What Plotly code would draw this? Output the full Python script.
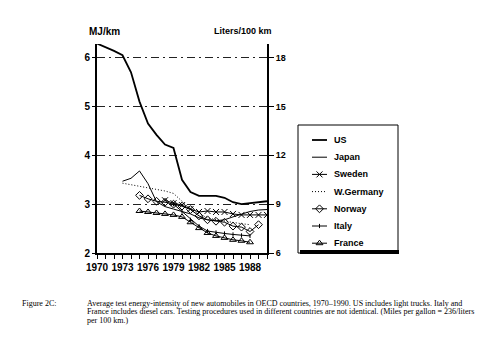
import plotly.graph_objects as go

# Average test energy intensity of new cars, MJ/km
years_us = list(range(1970, 1991))
us = [6.29, 6.22, 6.14, 6.05, 5.70, 5.10, 4.65, 4.42, 4.22, 4.15, 3.50,
      3.25, 3.17, 3.17, 3.17, 3.13, 3.04, 3.00, 3.02, 3.05, 3.06]

years_japan = list(range(1973, 1991))
japan = [3.47, 3.53, 3.68, 3.42, 3.05, 2.95, 2.90, 2.85, 2.80, 2.72,
         2.68, 2.66, 2.68, 2.74, 2.80, 2.85, 2.88, 2.89]

years_sweden = list(range(1978, 1991))
sweden = [3.08, 3.02, 2.98, 2.90, 2.84, 2.86, 2.84, 2.84, 2.80, 2.78,
          2.78, 2.78, 2.78]

years_wgermany = list(range(1973, 1989))
wgermany = [3.43, 3.40, 3.37, 3.33, 3.30, 3.27, 3.22, 3.05, 2.90, 2.80,
            2.72, 2.68, 2.65, 2.62, 2.60, 2.58]

years_norway = list(range(1975, 1990))
norway = [3.18, 3.11, 3.06, 3.04, 3.00, 2.96, 2.89, 2.76, 2.68, 2.65,
          2.63, 2.55, 2.53, 2.44, 2.58]

years_italy = list(range(1979, 1989))
italy = [3.00, 2.85, 2.68, 2.55, 2.45, 2.42, 2.40, 2.38, 2.36, 2.35]

years_france = list(range(1975, 1989))
france = [2.86, 2.84, 2.82, 2.80, 2.78, 2.74, 2.63, 2.51, 2.41, 2.35,
          2.31, 2.27, 2.25, 2.22]

left_ticks = [2, 3, 4, 5, 6]
right_ticks = [6, 9, 12, 15, 18]
x_ticks = [1970, 1973, 1976, 1979, 1982, 1985, 1988]

caption = [
    "Average test energy-intensity of new automobiles in OECD countries, 1970\u20131990. US includes light trucks. Italy and",
    "France includes diesel cars. Testing procedures used in different countries are not identical. (Miles per gallon = 236/liters",
    "per 100 km.)",
]

W, H = 497, 342
BLACK = "#000000"
axis_font = dict(family="Liberation Sans", size=10, color=BLACK, weight="bold")
right_font = dict(family="Liberation Sans", size=9, color=BLACK, weight="bold")
legend_font = dict(family="Liberation Sans", size=9, color=BLACK, weight="bold")
cap_font = dict(family="Liberation Serif", size=8, color=BLACK)

# Plot frame (pixels)
PL, PR, PT, PB = 97, 267, 44, 253
# Legend box (pixels)
LL, LR, LT, LB = 298, 398, 125, 253
# Plot area spans from the left axis to the right edge of the key
AW = LR - PL
AH = PB - PT


def fx(x):
    return (x - PL) / AW


def fy(y):
    return (PB - y) / AH


series = [
    ("US", years_us, us, dict(width=1.8), None),
    ("Japan", years_japan, japan, dict(width=1), None),
    ("Sweden", years_sweden, sweden, dict(width=1), dict(symbol="x-thin-open", size=6)),
    ("W.Germany", years_wgermany, wgermany, dict(width=1, dash="1px,2px"), None),
    ("Norway", years_norway, norway, dict(width=1), dict(symbol="diamond-open", size=6)),
    ("Italy", years_italy, italy, dict(width=1), dict(symbol="line-ns-open", size=3)),
    ("France", years_france, france, dict(width=1), dict(symbol="triangle-up-open", size=6)),
]

fig = go.Figure()

for name, xs, ys, line, marker in series:
    if marker:
        marker = dict(marker, color=BLACK, line=dict(width=1, color=BLACK))
    fig.add_trace(go.Scatter(
        x=xs, y=ys, name=name,
        mode="lines+markers" if marker else "lines",
        line=dict(line, color=BLACK), marker=marker,
        showlegend=False,
    ))

# Invisible trace that carries the right-hand Liters/100 km axis
fig.add_trace(go.Scatter(x=[1970], y=[6], xaxis="x", yaxis="y2", mode="markers",
                         marker=dict(opacity=0), showlegend=False, hoverinfo="skip"))

# Key: one sample per series, drawn on its own small axis system
step = 17.2
first = 140
for i, (name, xs, ys, line, marker) in enumerate(series):
    yk = first + i * step
    fig.add_trace(go.Scatter(
        x=[312, 327], y=[yk, yk], xaxis="x3", yaxis="y3",
        mode="lines", line=dict(line, color=BLACK),
        showlegend=False, hoverinfo="skip",
    ))
    if marker:
        fig.add_trace(go.Scatter(
            x=[319.5], y=[yk], xaxis="x3", yaxis="y3", mode="markers",
            marker=dict(marker, color=BLACK, line=dict(width=1, color=BLACK)),
            showlegend=False, hoverinfo="skip",
        ))
    fig.add_annotation(text=name, x=332, y=yk, xref="x3", yref="y3",
                       xanchor="left", yanchor="middle", showarrow=False,
                       font=legend_font)

fig.update_layout(
    width=W, height=H,
    margin=dict(l=PL, r=W - LR, t=PT, b=H - PB),
    paper_bgcolor="white", plot_bgcolor="white",
    font=dict(family="Liberation Sans", size=9, color=BLACK),
    showlegend=False,
    xaxis=dict(
        domain=[0, fx(PR)],
        range=[1970, 1990], tickmode="array", tickvals=x_ticks,
        ticktext=[str(v) for v in x_ticks],
        ticks="outside", ticklen=4, tickwidth=1, tickcolor=BLACK,
        minor=dict(dtick=1, ticks="outside", ticklen=4, tickwidth=1, tickcolor=BLACK),
        showline=True, linecolor=BLACK, linewidth=2, showgrid=False,
        zeroline=False, tickfont=axis_font,
    ),
    yaxis=dict(
        domain=[0, 1],
        range=[2, 6.28], tickmode="array", tickvals=left_ticks,
        ticks="outside", ticklen=3, tickwidth=1, tickcolor=BLACK,
        showline=True, linecolor=BLACK, linewidth=2,
        showgrid=True, gridcolor="#222222", gridwidth=1,
        griddash="8px,4px,2px,4px", zeroline=False, tickfont=axis_font,
    ),
    yaxis2=dict(
        range=[6, 6 + 4.28 * 3], overlaying="y", side="right", anchor="x",
        tickmode="array", tickvals=right_ticks,
        ticks="outside", ticklen=5, tickwidth=1, tickcolor=BLACK,
        showline=True, linecolor=BLACK, linewidth=2, showgrid=False,
        zeroline=False, tickfont=right_font,
    ),
    xaxis3=dict(domain=[fx(LL), 1], range=[LL, LR], anchor="y3",
                visible=False, fixedrange=True),
    yaxis3=dict(domain=[fy(LB), fy(LT)], range=[LB, LT], anchor="x3",
                visible=False, fixedrange=True),
)

# Key frame with a heavy lower edge
fig.add_shape(type="rect", xref="paper", yref="paper",
              x0=fx(LL), x1=fx(LR), y0=fy(LB), y1=fy(LT),
              line=dict(color=BLACK, width=1), layer="below")
fig.add_shape(type="line", xref="paper", yref="paper",
              x0=fx(LL + 2), x1=fx(LR + 1), y0=fy(LB - 1), y1=fy(LB - 1),
              line=dict(color=BLACK, width=4))

fig.add_annotation(text="MJ/km", x=fx(104), y=fy(31), xref="paper", yref="paper",
                   xanchor="center", yanchor="middle", showarrow=False, font=axis_font)
fig.add_annotation(text="Liters/100 km", x=fx(243), y=fy(31), xref="paper", yref="paper",
                   xanchor="center", yanchor="middle", showarrow=False, font=right_font)

fig.add_annotation(text="Figure 2C:", x=fx(20), y=fy(303), xref="paper", yref="paper",
                   xanchor="left", yanchor="middle", showarrow=False, font=cap_font)
for i, line_text in enumerate(caption):
    fig.add_annotation(text=line_text, x=fx(85), y=fy(303 + 8.5 * i),
                       xref="paper", yref="paper", xanchor="left", yanchor="middle",
                       showarrow=False, font=cap_font)

fig.write_html("out.html")
